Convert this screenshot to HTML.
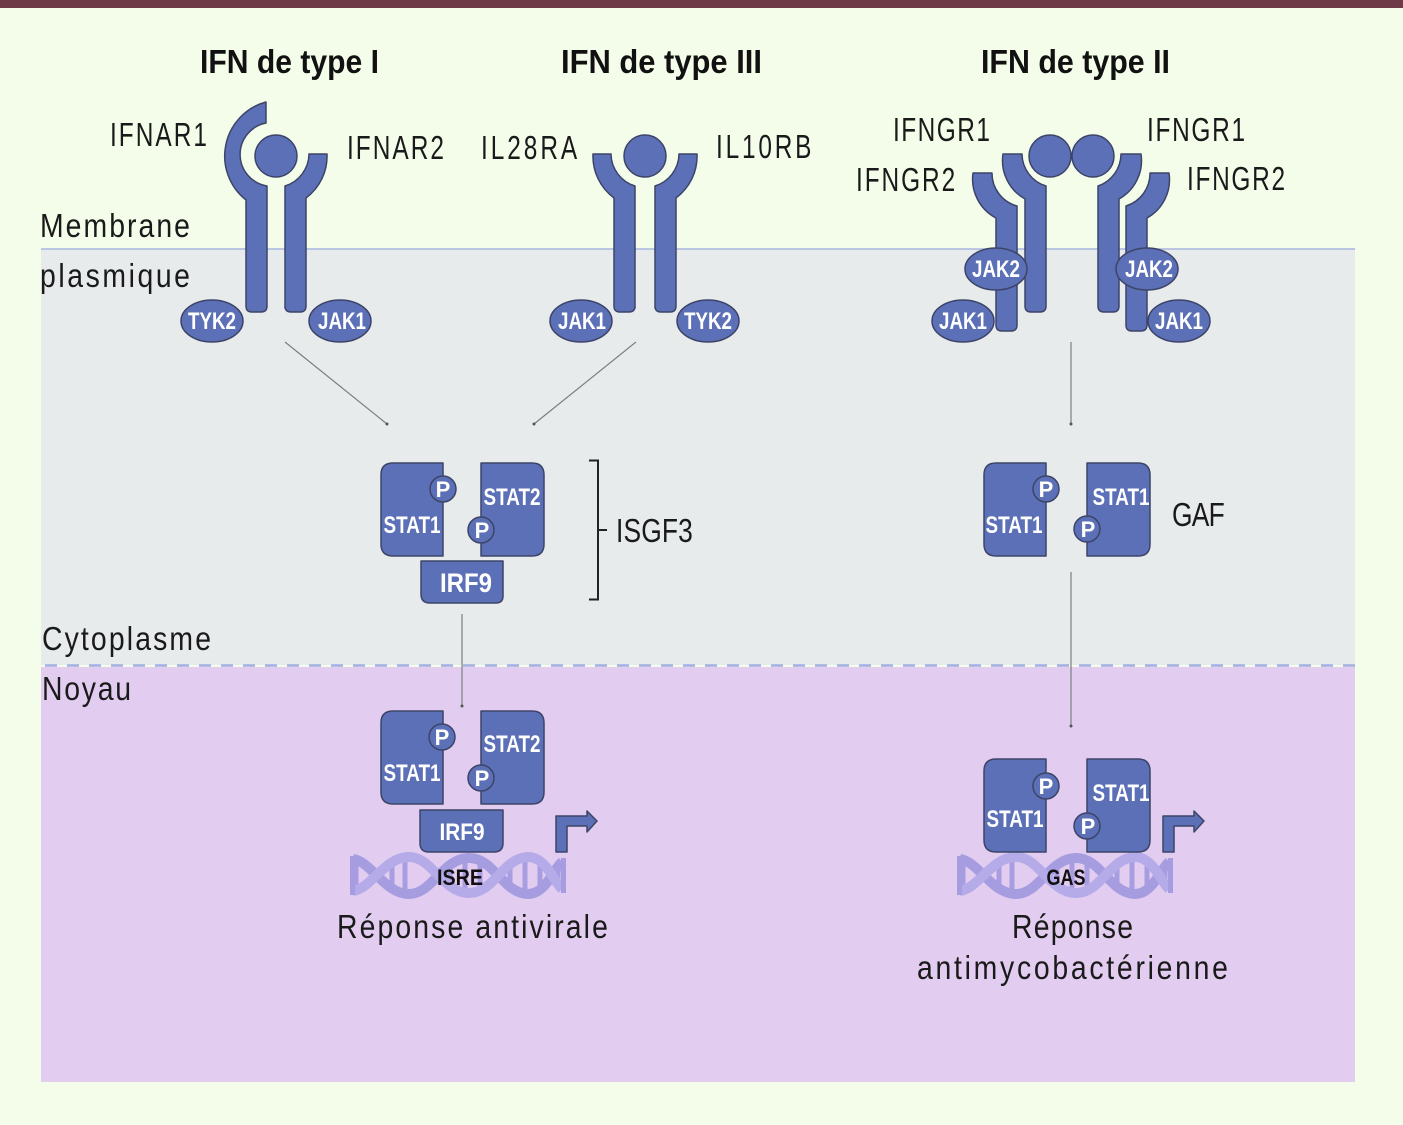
<!DOCTYPE html>
<html lang="fr"><head><meta charset="utf-8"><title>IFN</title>
<style>
html,body{margin:0;padding:0;background:#f4fdea}
svg{display:block}
text{font-family:"Liberation Sans",sans-serif}
.l{font-size:33px;fill:#1a1a1a;font-weight:400}
.t{font-size:33px;fill:#111;font-weight:700}
.w{font-size:24px;fill:#fff;font-weight:700;text-anchor:middle}
.p{font-size:22px;fill:#fff;font-weight:700;text-anchor:middle}
.s{fill:#5b70b6;stroke:#3d4468;stroke-width:1.5;stroke-linejoin:round}
.c{stroke:#7a7f82;stroke-width:1.2;fill:none}
</style></head><body>
<svg width="1403" height="1125" viewBox="0 0 1403 1125" xmlns="http://www.w3.org/2000/svg">
<defs>
<path id="rr" class="s" d="M10 152V30A34 34 0 0 0 34 -2H52A52 52 0 0 1 31 42V150Q31 156 25 156H16Q10 156 10 150Z"/>
<path id="st-l" class="s" d="M443 463V556H393Q381 556 381 544V475Q381 463 393 463Z"/>
<path id="st-r" class="s" d="M481 463V556H532Q544 556 544 544V475Q544 463 532 463Z"/>
<g id="dna" fill="none">
<path d="M356 858V892M392 862V888M405 859V891M450 864V886M465 859V891M480 859V891M510 862V888M525 859V891M540 864V886M558 862V888" stroke="#a79de0" stroke-width="5"/>
<path d="M353 859C372 862 384 893 408 894C432 895 442 859 468 858C494 857 502 893 528 894C546 894 554 868 562 862" stroke="#a69ce0" stroke-width="10"/>
<path d="M353 891C372 888 384 858 408 857C432 856 442 892 468 893C494 894 502 858 528 857C546 857 554 882 562 889" stroke="#b5abe8" stroke-width="10"/>
<path d="M352.500 856V895M563.500 858V893" stroke="#a69ce0" stroke-width="5"/>
</g>
<path id="arr" class="s" d="M556 852V816H587V811L597 821L587 832V826H567V852Z"/>
</defs>

<rect width="1403" height="1125" fill="#f4fdea"/>
<rect width="1403" height="8" fill="#6e3a47"/>
<rect x="41" y="249" width="1314" height="416" fill="#e7ebec"/>
<rect x="41" y="667" width="1314" height="415" fill="#e2cdf0"/>
<line x1="41" y1="249" x2="1355" y2="249" stroke="#a8b6de" stroke-width="1.5"/>
<line x1="45" y1="665.500" x2="1355" y2="665.500" stroke="#a3aee0" stroke-width="2.500" stroke-dasharray="12 10"/>

<text class="t" x="200" y="73" textLength="179" lengthAdjust="spacingAndGlyphs">IFN de type I</text>
<text class="t" x="561" y="73" textLength="201" lengthAdjust="spacingAndGlyphs">IFN de type III</text>
<text class="t" x="981" y="73" textLength="189" lengthAdjust="spacingAndGlyphs">IFN de type II</text>

<text class="l" transform="translate(110 146) scale(.74 1)" textLength="131" lengthAdjust="spacing">IFNAR1</text>
<text class="l" transform="translate(347 159) scale(.74 1)" textLength="131" lengthAdjust="spacing">IFNAR2</text>
<text class="l" transform="translate(481 159) scale(.74 1)" textLength="130" lengthAdjust="spacing">IL28RA</text>
<text class="l" transform="translate(716 158) scale(.74 1)" textLength="129" lengthAdjust="spacing">IL10RB</text>
<text class="l" transform="translate(893 141) scale(.74 1)" textLength="131" lengthAdjust="spacing">IFNGR1</text>
<text class="l" transform="translate(1147 141) scale(.74 1)" textLength="132.500" lengthAdjust="spacing">IFNGR1</text>
<text class="l" transform="translate(856 191) scale(.74 1)" textLength="134" lengthAdjust="spacing">IFNGR2</text>
<text class="l" transform="translate(1187 190) scale(.74 1)" textLength="132.500" lengthAdjust="spacing">IFNGR2</text>
<text class="l" transform="translate(40 237) scale(.86 1)" textLength="174.400" lengthAdjust="spacing">Membrane</text>
<text class="l" transform="translate(40 287) scale(.86 1)" textLength="174.400" lengthAdjust="spacing">plasmique</text>
<text class="l" transform="translate(616 542) scale(.8 1)" textLength="96" lengthAdjust="spacing">ISGF3</text>
<text class="l" transform="translate(1172 526) scale(.8 1)" textLength="66" lengthAdjust="spacing">GAF</text>
<text class="l" transform="translate(42 650) scale(.86 1)" textLength="196.500" lengthAdjust="spacing">Cytoplasme</text>
<text class="l" transform="translate(42 700) scale(.86 1)" textLength="103.500" lengthAdjust="spacing">Noyau</text>
<text class="l" transform="translate(337 938) scale(.86 1)" textLength="315" lengthAdjust="spacing">Réponse antivirale</text>
<text class="l" transform="translate(1012 938) scale(.86 1)" textLength="140.700" lengthAdjust="spacing">Réponse</text>
<text class="l" transform="translate(917 979) scale(.86 1)" textLength="361.600" lengthAdjust="spacing">antimycobactérienne</text>

<!-- Type I -->
<path class="s" d="M266 102A56 56 0 0 0 246 200V306Q246 312 252 312H261Q267 312 267 306V186A32 32 0 0 1 266 123Z"/>
<use href="#rr" transform="translate(275 156)"/>
<circle class="s" cx="276" cy="156" r="21"/>
<!-- Type III -->
<use href="#rr" transform="translate(645 156)"/>
<use href="#rr" transform="translate(645 156) scale(-1 1)"/>
<circle class="s" cx="645" cy="156" r="21"/>
<!-- Type II -->
<path class="s" d="M996 325V218A44 44 0 0 1 973 173H992A34 34 0 0 0 1017 206V325Q1017 331 1011 331H1002Q996 331 996 325Z"/>
<path class="s" d="M1147 325V218A44 44 0 0 0 1169 173H1150A34 34 0 0 1 1126 206V325Q1126 331 1132 331H1141Q1147 331 1147 325Z"/>
<path class="s" d="M1025 306V199A44 44 0 0 1 1003 154H1022A34 34 0 0 0 1046 186V306Q1046 312 1040 312H1031Q1025 312 1025 306Z"/>
<path class="s" d="M1119 306V199A44 44 0 0 0 1141 154H1121A34 34 0 0 1 1098 186V306Q1098 312 1104 312H1113Q1119 312 1119 306Z"/>
<circle class="s" cx="1050" cy="156" r="21"/>
<circle class="s" cx="1093" cy="156" r="21"/>

<g class="s">
<ellipse cx="212" cy="321" rx="31" ry="21"/>
<ellipse cx="340" cy="321" rx="31" ry="21"/>
<ellipse cx="581" cy="321" rx="31" ry="21"/>
<ellipse cx="708" cy="321" rx="31" ry="21"/>
<ellipse cx="996" cy="269" rx="31" ry="21"/>
<ellipse cx="1147" cy="269" rx="31" ry="21"/>
<ellipse cx="963" cy="321" rx="31" ry="21"/>
<ellipse cx="1179" cy="321" rx="31" ry="21"/>
</g>
<text class="w" x="212" y="329" textLength="48" lengthAdjust="spacingAndGlyphs">TYK2</text>
<text class="w" x="342" y="329" textLength="48" lengthAdjust="spacingAndGlyphs">JAK1</text>
<text class="w" x="582" y="329" textLength="48" lengthAdjust="spacingAndGlyphs">JAK1</text>
<text class="w" x="708" y="329" textLength="48" lengthAdjust="spacingAndGlyphs">TYK2</text>
<text class="w" x="996" y="277" textLength="48" lengthAdjust="spacingAndGlyphs">JAK2</text>
<text class="w" x="1149" y="277" textLength="48" lengthAdjust="spacingAndGlyphs">JAK2</text>
<text class="w" x="963" y="329" textLength="48" lengthAdjust="spacingAndGlyphs">JAK1</text>
<text class="w" x="1179" y="329" textLength="48" lengthAdjust="spacingAndGlyphs">JAK1</text>

<!-- connectors -->
<path class="c" d="M285 342L387 424M636 342L534 424M1071 342V424M462 614V706M1071 572V726"/>
<g fill="#555"><circle cx="387" cy="424" r="1.500"/><circle cx="534" cy="424" r="1.500"/><circle cx="1071" cy="424" r="1.500"/><circle cx="462" cy="706" r="1.500"/><circle cx="1071" cy="726" r="1.500"/></g>

<!-- ISGF3 -->
<use href="#st-l"/><use href="#st-r"/>
<path class="s" d="M421 561H503V596Q503 603 496 603H430Q421 603 421 594Z"/>
<circle class="s" cx="443" cy="489" r="13"/><circle class="s" cx="481" cy="530" r="13"/>
<text class="p" x="443" y="497">P</text><text class="p" x="482" y="538">P</text>
<text class="w" x="412" y="533" textLength="57" lengthAdjust="spacingAndGlyphs">STAT1</text>
<text class="w" x="512" y="505" textLength="57" lengthAdjust="spacingAndGlyphs">STAT2</text>
<text class="w" x="466" y="592" style="font-size:27px" textLength="52" lengthAdjust="spacingAndGlyphs">IRF9</text>
<path d="M589 460.500H598V599.500H589M598 530H607" fill="none" stroke="#222" stroke-width="2"/>

<!-- GAF -->
<use href="#st-l" transform="translate(603 0)"/><use href="#st-r" transform="translate(606 0)"/>
<circle class="s" cx="1046" cy="489" r="13"/><circle class="s" cx="1087" cy="529" r="13"/>
<text class="p" x="1046" y="497">P</text><text class="p" x="1088" y="537">P</text>
<text class="w" x="1014" y="533" textLength="57" lengthAdjust="spacingAndGlyphs">STAT1</text>
<text class="w" x="1121" y="505" textLength="57" lengthAdjust="spacingAndGlyphs">STAT1</text>

<!-- Nucleus left -->
<use href="#dna"/>
<use href="#st-l" transform="translate(0 248)"/><use href="#st-r" transform="translate(0 248)"/>
<path class="s" d="M420 810H503V843Q503 852 494 852H429Q420 852 420 843Z"/>
<circle class="s" cx="442" cy="737" r="13"/><circle class="s" cx="481" cy="778" r="13"/>
<text class="p" x="442" y="745">P</text><text class="p" x="482" y="786">P</text>
<text class="w" x="412" y="781" textLength="57" lengthAdjust="spacingAndGlyphs">STAT1</text>
<text class="w" x="512" y="752" textLength="57" lengthAdjust="spacingAndGlyphs">STAT2</text>
<text class="w" x="462" y="840" textLength="45" lengthAdjust="spacingAndGlyphs">IRF9</text>
<use href="#arr"/>
<text x="460" y="885" style="font-size:22px;font-weight:700;fill:#111;text-anchor:middle" textLength="46" lengthAdjust="spacingAndGlyphs">ISRE</text>

<!-- Nucleus right -->
<use href="#dna" transform="translate(607 0)"/>
<use href="#st-l" transform="translate(603 296)"/><use href="#st-r" transform="translate(606 296)"/>
<circle class="s" cx="1046" cy="786" r="13"/><circle class="s" cx="1087" cy="826" r="13"/>
<text class="p" x="1046" y="794">P</text><text class="p" x="1088" y="834">P</text>
<text class="w" x="1015" y="827" textLength="57" lengthAdjust="spacingAndGlyphs">STAT1</text>
<text class="w" x="1121" y="801" textLength="57" lengthAdjust="spacingAndGlyphs">STAT1</text>
<use href="#arr" transform="translate(607 0)"/>
<text x="1066" y="885" style="font-size:22px;font-weight:700;fill:#111;text-anchor:middle" textLength="39" lengthAdjust="spacingAndGlyphs">GAS</text>
</svg>
</body></html>
